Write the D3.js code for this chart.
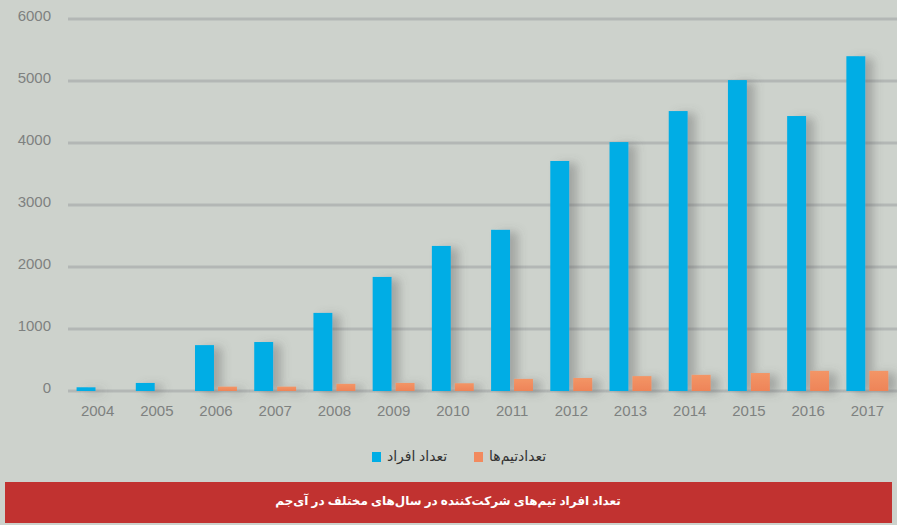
<!DOCTYPE html>
<html>
<head>
<meta charset="utf-8">
<script src="https://cdn.jsdelivr.net/npm/d3@7"></script>
<style>
  html, body { margin: 0; padding: 0; background: #cdd2cc; }
  svg { display: block; }
</style>
</head>
<body>
<svg id="chart" width="897" height="525"></svg>
<script>
// data
const years = ["2004","2005","2006","2007","2008","2009","2010","2011","2012","2013","2014","2015","2016","2017"];
const members = [60, 130, 740, 790, 1260, 1840, 2340, 2600, 3710, 4015, 4515, 5015, 4435, 5400];
const teams = [0, 0, 70, 70, 115, 130, 125, 195, 210, 240, 260, 290, 325, 325];
const yTicks = [0, 1000, 2000, 3000, 4000, 5000, 6000];
const seriesNames = ["تعداد افراد", "تعدادتیم‌ها"];
const colors = ["#00ade5", "#f28a5e"];
const title = "تعداد افراد تیم‌های شرکت‌کننده در سال‌های مختلف در آی‌جم";

const svg = d3.select("#chart");
const W = 897, H = 525;
const margin = { left: 68, right: 0, top: 19, bottom: 134 };

svg.append("rect").attr("width", W).attr("height", H).attr("fill", "#cdd2cc");

// soft shadow to the right of the bars
const defs = svg.append("defs");
defs.append("filter")
    .attr("id", "shadow")
    .attr("x", "-20%").attr("width", "220%")
    .attr("y", "-10%").attr("height", "130%")
    .append("feDropShadow")
    .attr("dx", 8)
    .attr("dy", 2)
    .attr("stdDeviation", 5)
    .attr("flood-color", "#555")
    .attr("flood-opacity", 0.35);

const orangeGrad = defs.append("linearGradient")
    .attr("id", "orange").attr("x1", 0).attr("x2", 0).attr("y1", 0).attr("y2", 1);
orangeGrad.append("stop").attr("offset", "0%").attr("stop-color", "#f39566");
orangeGrad.append("stop").attr("offset", "100%").attr("stop-color", "#ee8458");

const x = d3.scaleBand()
    .domain(years)
    .range([margin.left, W - margin.right]);

const y = d3.scaleLinear()
    .domain([0, 6000])
    .range([H - margin.bottom, margin.top]);

// gridlines
svg.append("g")
    .selectAll("line")
    .data(yTicks)
    .join("line")
    .attr("x1", margin.left)
    .attr("x2", W - margin.right)
    .attr("y1", d => y(d))
    .attr("y2", d => y(d))
    .attr("stroke", "#b3b7b5")
    .attr("stroke-width", 3);

// y labels
svg.append("g")
    .selectAll("text")
    .data(yTicks)
    .join("text")
    .attr("x", 51)
    .attr("y", d => y(d) - 2)
    .attr("text-anchor", "end")
    .attr("dominant-baseline", "middle")
    .attr("font-family", "Liberation Sans, Arial, sans-serif")
    .attr("font-size", 15)
    .attr("fill", "#7e8180")
    .text(d => d);

// x labels
svg.append("g")
    .selectAll("text")
    .data(years)
    .join("text")
    .attr("x", d => x(d) + x.bandwidth() / 2)
    .attr("y", 416)
    .attr("text-anchor", "middle")
    .attr("font-family", "Liberation Sans, Arial, sans-serif")
    .attr("font-size", 15)
    .attr("fill", "#7e8180")
    .text(d => d);

const barW = x.bandwidth() * 0.32;
const pad = x.bandwidth() * 0.145;

const bars = svg.append("g").attr("filter", "url(#shadow)");

bars.selectAll("rect.members")
    .data(years)
    .join("rect")
    .attr("class", "members")
    .attr("x", d => x(d) + pad)
    .attr("width", barW)
    .attr("y", (d, i) => y(members[i]))
    .attr("height", (d, i) => y(0) - y(members[i]))
    .attr("fill", colors[0]);

bars.selectAll("rect.teams")
    .data(years)
    .join("rect")
    .attr("class", "teams")
    .attr("x", d => x(d) + pad + barW + 4)
    .attr("width", barW)
    .attr("y", (d, i) => y(teams[i]))
    .attr("height", (d, i) => y(0) - y(teams[i]))
    .attr("fill", "url(#orange)");

// legend
const legendX = [372, 474];
const legend = svg.append("g")
    .selectAll("g")
    .data(seriesNames)
    .join("g")
    .attr("transform", (d, i) => `translate(${legendX[i]},452)`);

legend.append("rect")
    .attr("width", 9)
    .attr("height", 10)
    .attr("fill", (d, i) => colors[i]);

legend.append("text")
    .attr("x", 15)
    .attr("y", 5)
    .attr("dominant-baseline", "middle")
    .attr("text-anchor", "start")
    .attr("font-family", "Noto Sans, DejaVu Sans, sans-serif")
    .attr("font-size", 14)
    .attr("fill", "#333")
    .text(d => d);

// title bar
svg.append("rect")
    .attr("x", 5)
    .attr("y", 482)
    .attr("width", 887)
    .attr("height", 41)
    .attr("fill", "#c13230");

svg.append("text")
    .attr("x", 448)
    .attr("y", 502)
    .attr("text-anchor", "middle")
    .attr("dominant-baseline", "middle")
    .attr("direction", "rtl")
    .attr("font-family", "Noto Sans, DejaVu Sans, sans-serif")
    .attr("font-size", 12)
    .attr("font-weight", "bold")
    .attr("fill", "#fff")
    .text(title);
</script>
</body>
</html>
